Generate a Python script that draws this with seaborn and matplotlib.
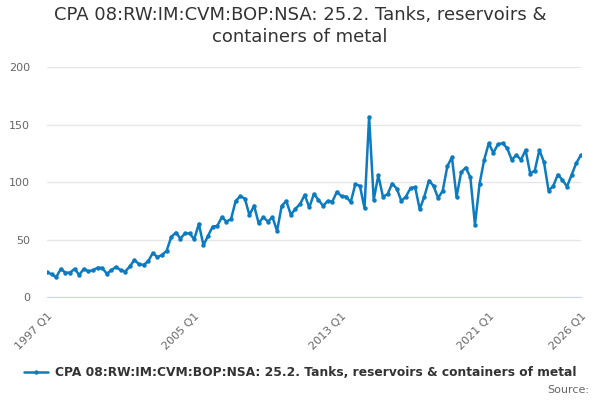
import numpy as np
import pandas as pd
import seaborn as sns
import matplotlib.pyplot as plt

# quarterly values, 1997 Q1 to 2026 Q1
values = [
    21.7, 20.0, 17.4, 24.6, 21.4, 21.4, 24.6, 19.4, 24.6, 22.5, 23.5, 25.7,
    25.4, 20.5, 23.5, 26.4, 23.5, 22.3, 26.7, 32.4, 28.7, 28.1, 31.3, 38.5,
    34.8, 36.8, 40.3, 52.4, 56.2, 51.0, 55.6, 55.4, 50.4, 63.8, 45.2, 53.3,
    61.4, 62.0, 69.6, 65.8, 68.0, 83.7, 87.8, 85.8, 71.3, 79.7, 64.3, 69.6,
    65.8, 69.6, 57.6, 79.4, 83.7, 71.6, 77.0, 80.9, 89.0, 78.0, 89.8, 84.6,
    79.4, 83.7, 83.1, 91.6, 87.8, 87.5, 82.6, 98.2, 96.8, 77.4, 156.8, 84.6,
    106.0, 87.5, 89.5, 98.8, 94.5, 83.7, 87.5, 94.8, 95.7, 76.5, 87.5, 101.4,
    96.8, 86.1, 92.7, 113.9, 121.7, 87.2, 108.7, 112.7, 104.3, 63.1, 98.5, 119.4,
    133.9, 125.5, 133.0, 133.9, 129.6, 119.4, 123.7, 119.4, 128.0, 107.5, 110.1, 128.0,
    117.4, 92.7, 96.5, 106.6, 102.0, 96.2, 106.3, 116.5, 123.5,
]
quarters = [f"{1997 + i // 4} Q{i % 4 + 1}" for i in range(len(values))]
series_name = "CPA 08:RW:IM:CVM:BOP:NSA: 25.2. Tanks, reservoirs & containers of metal"

df = pd.DataFrame({"pos": range(len(values)), "value": values})

sns.set_style("white")
plt.rcParams["font.family"] = ["DejaVu Sans"]

fig = plt.figure(figsize=(6, 4), dpi=100)
ax = fig.add_axes([0.0783, 0.257, 0.8897, 0.575])

color = "#0d7bbf"
sns.lineplot(data=df, x="pos", y="value", ax=ax, color=color, linewidth=1.8,
             marker="o", markersize=3.2, markeredgewidth=0, label=series_name,
             legend=False)

ax.set_xlim(0, len(values) - 1)
ax.set_ylim(0, 200)
ax.set_yticks([0, 50, 100, 150, 200])
ax.yaxis.grid(True, color="#e6e6e6", linewidth=1)
ax.set_axisbelow(True)

last = len(values) - 1
ticks = list(range(0, 112, 8)) + [last]
ax.set_xticks(ticks)
label_idx = [0, 32, 64, 96, last]
ax.set_xticklabels([quarters[t] if t in label_idx else "" for t in ticks],
                   rotation=45, ha="right", rotation_mode="anchor")
ax.tick_params(axis="x", length=8, color="#ccd6eb", labelsize=8,
               labelcolor="#666666", pad=2)
ax.tick_params(axis="y", length=0, labelsize=8, labelcolor="#666666", pad=12)
for s in ["top", "right", "left"]:
    ax.spines[s].set_visible(False)
ax.spines["bottom"].set_color("#ccd6eb")
ax.set_xlabel("")
ax.set_ylabel("")

fig.text(0.5, 0.935, "CPA 08:RW:IM:CVM:BOP:NSA: 25.2. Tanks, reservoirs &\ncontainers of metal",
         ha="center", va="center", fontsize=13, color="#333333", linespacing=1.3)

handles, labels = ax.get_legend_handles_labels()
fig.legend(handles, labels, loc="center", bbox_to_anchor=(0.5, 0.068), frameon=False,
           prop={"weight": "bold", "size": 8.8}, labelcolor="#333333",
           handlelength=2.0, handletextpad=0.5)
fig.text(0.982, 0.025, "Source:", ha="right", va="center", fontsize=8, color="#666666")

fig.savefig("out.png", dpi=100)
